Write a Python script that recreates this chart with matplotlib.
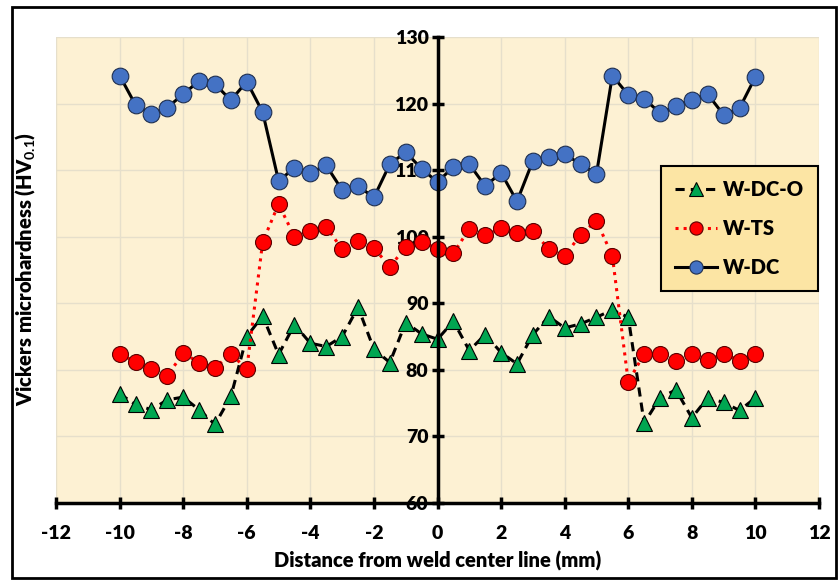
import numpy as np
from matplotlib import pyplot as plt
from matplotlib.patches import Rectangle

plt.rcParams['font.family'] = ['Lato', 'DejaVu Sans']
plt.rcParams['font.weight'] = 'heavy'
plt.rcParams['axes.unicode_minus'] = False
plt.rcParams['mathtext.fontset'] = 'custom'
plt.rcParams['mathtext.bf'] = 'Lato:bold'
plt.rcParams['mathtext.rm'] = 'Lato:bold'

dist = np.arange(-10, 10.01, 0.5)

w_dc_o = [76.4, 74.8, 74.0, 75.5, 75.9, 74.0, 71.8, 76.0, 85.0, 88.1,
          82.3, 86.8, 84.0, 83.5, 85.0, 89.4, 83.1, 81.1, 87.1, 85.4,
          84.6,
          87.3, 82.9, 85.3, 82.6, 80.9, 85.3, 88.0, 86.3, 86.9, 87.9,
          89.0, 87.9, 72.0, 75.8, 77.0, 72.8, 75.8, 75.1, 73.9, 75.8]

w_ts = [82.4, 81.2, 80.1, 79.1, 82.5, 81.1, 80.3, 82.4, 80.1, 99.2,
        104.9, 100.0, 100.9, 101.5, 98.1, 99.3, 98.3, 95.5, 98.4, 99.2,
        98.2,
        97.5, 101.2, 100.2, 101.3, 100.5, 100.9, 98.1, 97.1, 100.3, 102.4,
        97.1, 78.2, 82.4, 82.4, 81.4, 82.4, 81.5, 82.4, 81.4, 82.4]

w_dc = [124.2, 119.8, 118.4, 119.4, 121.4, 123.4, 122.9, 120.5, 123.3, 118.7,
        108.4, 110.3, 109.6, 110.7, 107.0, 107.6, 105.9, 110.9, 112.7, 110.2,
        108.2,
        110.5, 110.9, 107.6, 109.6, 105.3, 111.4, 111.9, 112.4, 110.9, 109.4,
        124.2, 121.3, 120.7, 118.6, 119.6, 120.6, 121.4, 118.3, 119.3, 124.0]

xticks = np.arange(-12, 13, 2)
yticks = np.arange(60, 131, 10)

fig = plt.figure(figsize=(8.4, 5.85), dpi=100)
ax = fig.add_axes([0.0667, 0.1402, 0.9083, 0.7966])
ax.set_facecolor('#FDF1D3')

ax.plot(dist, w_dc_o, color='black', ls=(0, (3, 2)), lw=2.2, marker='^',
        ms=12, mfc='#00A651', mec='black', mew=0.8, label='W-DC-O')
ax.plot(dist, w_ts, color='#FF0000', ls=':', lw=2.2, marker='o',
        ms=11.5, mfc='#FF0000', mec='#5a0000', mew=0.8, label='W-TS')
ax.plot(dist, w_dc, color='black', ls='-', lw=2.2, marker='o',
        ms=12, mfc='#4472C4', mec='#1f2f50', mew=0.8, label='W-DC')

ax.set_xlim(-12, 12)
ax.set_ylim(60, 130)
ax.set_xticks(xticks)
ax.set_yticks(yticks)
ax.grid(True, color='#E6DFCB', lw=1)
ax.set_axisbelow(True)

ax.spines['left'].set_position(('data', 0))
ax.spines['top'].set_visible(False)
ax.spines['right'].set_visible(False)
ax.spines['left'].set_linewidth(2.5)
ax.spines['bottom'].set_linewidth(2.5)
ax.tick_params(axis='both', direction='inout', length=9, width=2.5,
               labelsize=14)
ax.tick_params(axis='x', pad=11)
ax.tick_params(axis='y', pad=2)
for lab in ax.get_xticklabels() + ax.get_yticklabels():
    lab.set_fontweight('heavy')

ax.set_xlabel('Distance from weld center line (mm)', fontsize=14.5,
              fontweight='heavy', labelpad=7)
fig.text(0.03, 0.54, 'Vickers microhardness (HV$_{\\mathbf{0.1}}$)',
         rotation=90, fontsize=14.5, fontweight='heavy', ha='center',
         va='center')

leg = ax.legend(loc='upper left', bbox_to_anchor=(0.793, 0.724),
                borderaxespad=0, fontsize=14.5, frameon=True, fancybox=False,
                facecolor='#FCE5A4', edgecolor='black', framealpha=1,
                handlelength=2.1, labelspacing=1.0, borderpad=0.7,
                handletextpad=0.25)
leg.get_frame().set_linewidth(1.5)
for h in leg.legend_handles:
    h.set_markersize(9.5)
for t in leg.get_texts():
    t.set_fontweight('heavy')

fig.patches.append(Rectangle((0.0143, 0.012), 0.981, 0.976,
                             transform=fig.transFigure, fill=False,
                             edgecolor='black', lw=2))

fig.savefig('out.png', dpi=100)
